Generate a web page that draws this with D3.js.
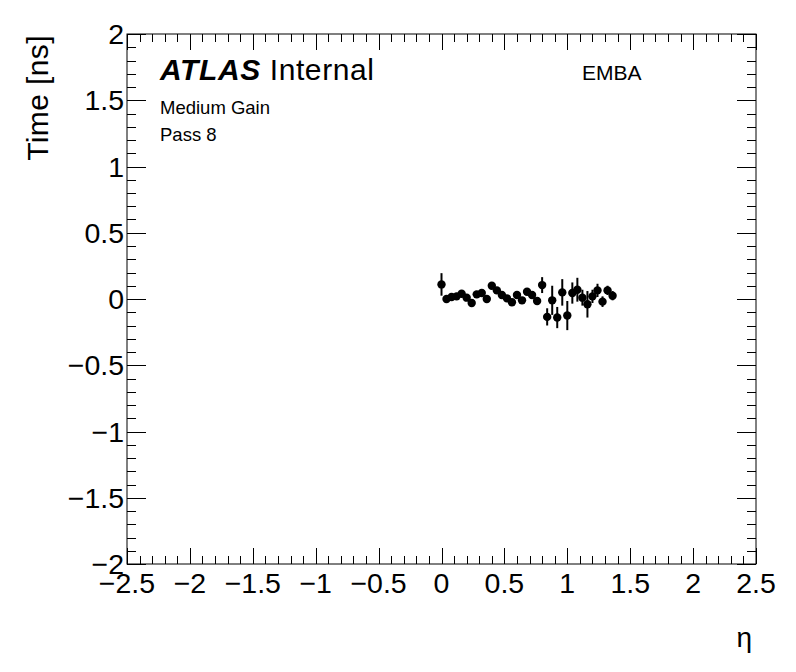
<!DOCTYPE html>
<html><head><meta charset="utf-8">
<script src="https://cdn.jsdelivr.net/npm/d3@7"></script>
<style>body{margin:0;background:#fff;} svg{display:block;} text{font-family:"Liberation Sans",Arial,Helvetica,sans-serif;}</style>
</head><body><svg id="c" width="796" height="672"></svg>
<script>
const etaValues = [0.00,0.04,0.08,0.12,0.16,0.20,0.24,0.28,0.32,0.36,0.40,0.44,0.48,0.52,0.56,0.60,0.64,0.68,0.72,0.76,0.80,0.84,0.88,0.92,0.96,1.00,1.04,1.08,1.12,1.16,1.20,1.24,1.28,1.32,1.36];
const timeValues = [0.11,0.00,0.015,0.02,0.04,0.01,-0.03,0.035,0.045,0.00,0.10,0.065,0.03,0.005,-0.025,0.03,-0.01,0.055,0.03,-0.015,0.105,-0.135,-0.01,-0.14,0.05,-0.125,0.045,0.07,0.01,-0.04,0.02,0.065,-0.02,0.065,0.025];
const timeErrors = [0.085,0.02,0.015,0.015,0.02,0.02,0.02,0.02,0.02,0.02,0.02,0.02,0.02,0.02,0.02,0.02,0.02,0.025,0.025,0.03,0.06,0.065,0.11,0.08,0.1,0.11,0.08,0.09,0.06,0.1,0.05,0.05,0.04,0.035,0.035];
const xTicks = [-2.5,-2,-1.5,-1,-0.5,0,0.5,1,1.5,2,2.5];
const yTicks = [-2,-1.5,-1,-0.5,0,0.5,1,1.5,2];

const svg = d3.select("#c");
const L=127, R=756, T=34, B=564;
const x = d3.scaleLinear().domain([-2.5,2.5]).range([L,R]);
const y = d3.scaleLinear().domain([-2,2]).range([B,T]);
const fmt = v => (v<0?"\u2212":"") + Math.abs(v);

// frame
svg.append("rect").attr("x",L).attr("y",T).attr("width",R-L).attr("height",B-T)
  .attr("fill","none").attr("stroke","#000").attr("stroke-width",1);

// ticks
const xMinor = d3.range(-25,26).map(i=>i/10);
const yMinor = d3.range(-20,21).map(i=>i/10);
const g = svg.append("g").attr("stroke","#000").attr("stroke-width",1);
xMinor.forEach(v=>{
  const major = Math.abs(Math.round(v*10)%5)===0;
  const len = major?16:8;
  const px = Math.round(x(v))+0.5;
  g.append("line").attr("x1",px).attr("x2",px).attr("y1",B).attr("y2",B-len);
  g.append("line").attr("x1",px).attr("x2",px).attr("y1",T).attr("y2",T+len);
});
yMinor.forEach(v=>{
  const major = Math.abs(Math.round(v*10)%5)===0;
  const len = major?19:9;
  const py = Math.round(y(v))+0.5;
  g.append("line").attr("x1",L).attr("x2",L+len).attr("y1",py).attr("y2",py);
  g.append("line").attr("x1",R).attr("x2",R-len).attr("y1",py).attr("y2",py);
});

// tick labels
svg.append("g").selectAll("text").data(xTicks).join("text")
  .attr("x",d=>x(d)).attr("y",593).attr("text-anchor","middle")
  .attr("font-size",28.5).text(fmt);
svg.append("g").selectAll("text").data(yTicks).join("text")
  .attr("x",124).attr("y",d=>y(d)+10).attr("text-anchor","end")
  .attr("font-size",28.5).text(fmt);

// axis titles
svg.append("text").attr("x",752).attr("y",647).attr("text-anchor","end")
  .attr("font-size",28).attr("font-family","'DejaVu Serif',serif").text("\u03b7");
svg.append("text").attr("transform","translate(48,35) rotate(-90)").attr("text-anchor","end")
  .attr("font-size",30).attr("letter-spacing",0.4).text("Time [ns]");

// labels
const t1 = svg.append("text").attr("x",160).attr("y",80).attr("font-size",30).attr("letter-spacing",0.6);
t1.append("tspan").attr("font-weight","bold").attr("font-style","italic").text("ATLAS");
t1.append("tspan").text(" Internal");
svg.append("text").attr("x",582).attr("y",80).attr("font-size",21).text("EMBA");
svg.append("text").attr("x",160).attr("y",114).attr("font-size",18.5).text("Medium Gain");
svg.append("text").attr("x",160).attr("y",141).attr("font-size",18.5).text("Pass 8");

// data
const pts = etaValues.map((e,i)=>({e, v:timeValues[i], err:timeErrors[i]}));
const dg = svg.append("g");
dg.selectAll("line").data(pts).join("line")
  .attr("x1",d=>x(d.e)).attr("x2",d=>x(d.e))
  .attr("y1",d=>y(d.v+d.err)).attr("y2",d=>y(d.v-d.err))
  .attr("stroke","#000").attr("stroke-width",2);
dg.selectAll("circle").data(pts).join("circle")
  .attr("cx",d=>x(d.e)).attr("cy",d=>y(d.v)).attr("r",4.2).attr("fill","#000");
</script></body></html>
